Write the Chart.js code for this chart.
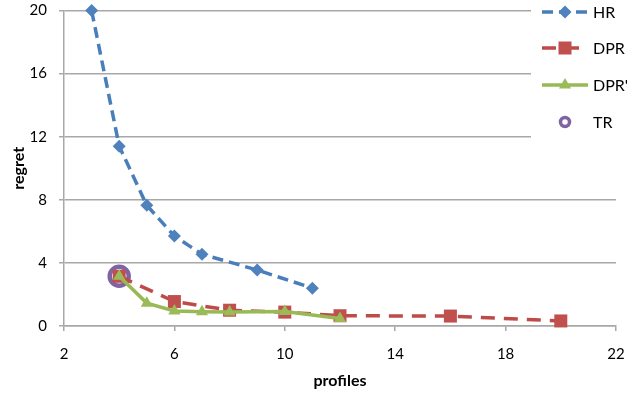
<!DOCTYPE html>
<html>
<head>
<meta charset="utf-8">
<script src="https://cdn.jsdelivr.net/npm/chart.js@4/dist/chart.umd.min.js"></script>
<style>
  html, body { margin: 0; padding: 0; background: #fff; }
  #wrap { width: 641px; height: 397px; position: relative; }
</style>
</head>
<body>
<div id="wrap"><canvas id="myChart"></canvas></div>
<script>
// profiles (x) and regret (y) for each method
const hrProfiles = [3, 4, 5, 6, 7, 9, 11];
const hrRegret = [20, 11.4, 7.65, 5.7, 4.55, 3.55, 2.4];

const dprProfiles = [4, 6, 8, 10, 12, 16, 20];
const dprRegret = [3.15, 1.55, 1.0, 0.88, 0.65, 0.63, 0.32];

const dpr2Profiles = [4, 5, 6, 7, 8, 10, 12];
const dpr2Regret = [3.15, 1.45, 0.95, 0.9, 0.88, 0.92, 0.48];

const trProfiles = [4];
const trRegret = [3.15];

const xTicks = [2, 6, 10, 14, 18, 22];
const yTicks = [0, 4, 8, 12, 16, 20];

const FONT = 'Lato, "Open Sans", sans-serif';
const GRID = '#a8a8a8';

function pts(xs, ys) {
    return xs.map((x, i) => ({ x: x, y: ys[i] }));
}

// legend drawn on a white box over the top right of the plot
const boxLegend = {
    id: 'boxLegend',
    afterDraw(chart) {
        const ctx = chart.ctx;
        ctx.save();
        ctx.fillStyle = '#fff';
        ctx.fillRect(531, 0, 110, 168);

        const rows = [12, 48, 85, 122];
        chart.data.datasets.forEach((ds) => {
            const y = rows[ds.legendRow];
            const x0 = 542, x1 = 588, cx = 565;
            if (ds.showLine !== false) {
                ctx.beginPath();
                ctx.strokeStyle = ds.borderColor;
                ctx.lineWidth = ds.borderWidth;
                ctx.setLineDash(ds.borderDash || []);
                ctx.moveTo(x0, y);
                ctx.lineTo(x1, y);
                ctx.stroke();
                ctx.setLineDash([]);
            }
            const bw = ds.legendBorder || ds.pointBorderWidth;
            ctx.fillStyle = ds.pointBackgroundColor;
            ctx.strokeStyle = ds.pointBorderColor;
            ctx.lineWidth = bw;
            Chart.helpers.drawPoint(ctx, {
                pointStyle: ds.pointStyle,
                radius: ds.legendRadius || ds.pointRadius,
                borderWidth: bw,
                rotation: 0
            }, cx, y);

            ctx.fillStyle = '#000';
            ctx.font = '16px ' + FONT;
            ctx.textAlign = 'left';
            ctx.textBaseline = 'middle';
            ctx.fillText(ds.label, 593, y + 1);
        });
        ctx.restore();
    }
};

const ctx = document.getElementById('myChart').getContext('2d');

new Chart(ctx, {
    type: 'line',
    data: {
        datasets: [
            {
                label: 'HR',
                data: pts(hrProfiles, hrRegret),
                borderColor: '#4a7ebb',
                borderWidth: 3.5,
                borderDash: [11, 6],
                pointStyle: 'rectRot',
                pointRadius: 6.5,
                pointBackgroundColor: '#4f81bd',
                pointBorderColor: '#4f81bd',
                pointBorderWidth: 0,
                legendRow: 0,
                order: 4
            },
            {
                label: 'DPR',
                data: pts(dprProfiles, dprRegret),
                borderColor: '#be4b48',
                borderWidth: 3.5,
                borderDash: [14, 9],
                pointStyle: 'rect',
                pointRadius: 9.2,
                pointBackgroundColor: '#c0504d',
                pointBorderColor: '#c0504d',
                pointBorderWidth: 0,
                legendRow: 1,
                order: 3
            },
            {
                label: "DPR'",
                data: pts(dpr2Profiles, dpr2Regret),
                borderColor: '#98b954',
                borderWidth: 3.5,
                pointStyle: 'triangle',
                pointRadius: 7,
                pointBackgroundColor: '#9bbb59',
                pointBorderColor: '#9bbb59',
                pointBorderWidth: 0,
                legendRow: 2,
                order: 1
            },
            {
                label: 'TR',
                data: pts(trProfiles, trRegret),
                showLine: false,
                borderColor: '#8064a2',
                borderWidth: 0,
                pointStyle: 'circle',
                pointRadius: 9.5,
                pointBackgroundColor: '#ffffff',
                pointBorderColor: '#8064a2',
                pointBorderWidth: 4.5,
                legendRadius: 4.5,
                legendBorder: 3.5,
                legendRow: 3,
                order: 5
            }
        ]
    },
    options: {
        responsive: true,
        maintainAspectRatio: false,
        animation: false,
        clip: false,
        layout: { autoPadding: false, padding: { top: 0, right: 25, left: 0, bottom: 0 } },
        plugins: {
            legend: { display: false },
            tooltip: { enabled: false }
        },
        elements: { line: { tension: 0 } },
        scales: {
            x: {
                type: 'linear',
                min: 2,
                max: 22,
                afterFit(scale) { scale.height = 71; },
                afterBuildTicks(scale) { scale.ticks = xTicks.map(v => ({ value: v })); },
                grid: { drawOnChartArea: false, drawTicks: true, tickLength: 5, color: GRID, lineWidth: 1.5 },
                border: { color: GRID, width: 1.5 },
                ticks: { color: '#000', padding: 14, font: { family: FONT, size: 15 }, maxRotation: 0 },
                title: {
                    display: true,
                    text: 'profiles',
                    color: '#000',
                    font: { family: FONT, size: 16, weight: 'bold' },
                    padding: { top: 0, bottom: 7 }
                }
            },
            y: {
                min: 0,
                max: 20,
                afterFit(scale) {
                    scale.width = 64;
                    scale.paddingTop = 10.5;
                    scale.paddingBottom = 0;
                },
                afterBuildTicks(scale) { scale.ticks = yTicks.map(v => ({ value: v })); },
                grid: { color: GRID, lineWidth: 1.5, tickLength: 5 },
                border: { color: GRID, width: 1.5 },
                ticks: { color: '#000', padding: 12, font: { family: FONT, size: 15 } },
                title: {
                    display: true,
                    text: 'regret',
                    color: '#000',
                    font: { family: FONT, size: 16, weight: 'bold' },
                    padding: { top: 9, bottom: 0 }
                }
            }
        }
    },
    plugins: [boxLegend]
});
</script>
</body>
</html>
